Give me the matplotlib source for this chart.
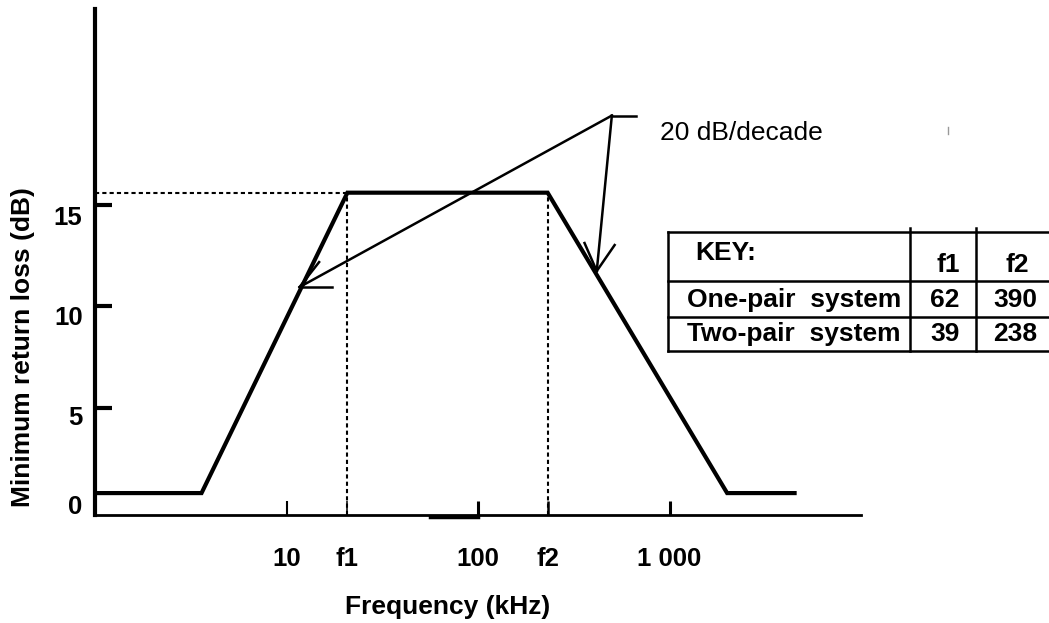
import matplotlib
matplotlib.use("Agg")
import matplotlib.pyplot as plt
from matplotlib.lines import Line2D
from matplotlib.transforms import ScaledTranslation

plt.rcParams['font.family'] = ['Liberation Sans', 'DejaVu Sans']

# mask of minimum return loss vs frequency (schematic)
freq_khz = [1, 3.6, 20.8, 231, 2000, 4500]
loss_db = [0.8, 0.8, 15.6, 15.6, 0.8, 0.8]
f1_pos = 20.8
f2_pos = 231
plateau_db = 15.6

x_ticks = [10, f1_pos, 100, f2_pos, 1000]
x_tick_labels = ['10', 'f1', '100', 'f2', '1 000']
y_ticks = [0, 5, 10, 15]
y_tick_labels = ['0', '5', '10', '15']

# "20 dB/decade" pointer
slope_label = '20 dB/decade'
label_pos = (889, 18.54)
arrow_vertex = (500, 19.4)
arrow_tail_end = (666, 19.4)
left_tip = (11.7, 10.95)
left_wings = [(14.8, 12.18), (17.3, 10.95)]
right_tip = (417, 11.74)
right_wings = [(360, 13.12), (517, 13.02)]

# key table
key_rows = ['One-pair  system', 'Two-pair  system']
key_f1 = [62, 39]
key_f2 = [390, 238]

W, H = 1049, 623


def fx(x):
    return x / W


def fy(y):
    return 1 - y / H


fig = plt.figure(figsize=(W / 100, H / 100), dpi=100)
ax = fig.add_axes([fx(95), fy(515), 766 / W, 506 / H])

ax.set_xscale('log')
ax.set_xlim(1, 10000)
ax.set_ylim(-0.28, 24.65)

# dashed guides
dash = dict(color='black', lw=1.5, ls=(0, (2, 1.5)), zorder=2)
ax.plot([1, f1_pos], [plateau_db, plateau_db], **dash)
ax.plot([f1_pos, f1_pos], [-0.28, plateau_db], **dash)
ax.plot([f2_pos, f2_pos], [-0.28, plateau_db], **dash)

# the curve
ax.plot(freq_khz, loss_db, color='black', lw=3, solid_joinstyle='miter', zorder=3)

# pointer lines
ax.plot([arrow_vertex[0], arrow_tail_end[0]], [arrow_vertex[1], arrow_tail_end[1]],
        color='black', lw=1.8)
for tip, wings in [(left_tip, left_wings), (right_tip, right_wings)]:
    ax.plot([arrow_vertex[0], tip[0]], [arrow_vertex[1], tip[1]], color='black', lw=1.8)
    for w in wings:
        ax.plot([tip[0], w[0]], [tip[1], w[1]], color='black', lw=1.8)
ax.text(label_pos[0], label_pos[1], slope_label, fontsize=19, ha='left', va='center')

# little scan blemish on the axis
ax.plot([56, 100], [-0.36, -0.36], color='black', lw=2.5, clip_on=False, zorder=4)

# axes styling
for side in ['top', 'right']:
    ax.spines[side].set_visible(False)
ax.spines['left'].set_linewidth(3)
ax.spines['bottom'].set_linewidth(2)

ax.set_xticks(x_ticks)
ax.set_xticklabels(x_tick_labels, fontsize=18.5, fontweight='bold')
ax.xaxis.set_minor_locator(matplotlib.ticker.NullLocator())
ax.tick_params(axis='x', direction='in', length=10, width=1.6, pad=23)
for t, w in zip(ax.xaxis.get_major_ticks(), [1.5, 1.1, 2.2, 1.8, 2.2]):
    t.tick1line.set_markeredgewidth(w)

ax.set_yticks(y_ticks)
ax.set_yticklabels(y_tick_labels, fontsize=18.5, fontweight='bold')
ax.tick_params(axis='y', direction='in', length=12, width=3, pad=9)
ax.yaxis.get_major_ticks()[0].tick1line.set_visible(False)
for lab, dy in zip(ax.get_yticklabels(), [5, -8, -9, -11]):
    lab.set_transform(lab.get_transform() + ScaledTranslation(0, dy / 100, fig.dpi_scale_trans))

ax.set_xlabel('Frequency (kHz)', fontsize=19, fontweight='bold', va='center')
ax.xaxis.set_label_coords((448 - 95) / 766, (515 - 607) / 506)
ax.set_ylabel('Minimum return loss (dB)', fontsize=19, fontweight='bold',
              ha='center', va='center')
ax.yaxis.set_label_coords((23 - 95) / 766, (515 - 347) / 506)

# key table drawn on the figure
tbl = dict(color='black', lw=1.8)
for y in [232, 281, 317, 351]:
    fig.add_artist(Line2D([fx(668), fx(1049)], [fy(y), fy(y)], **tbl))
fig.add_artist(Line2D([fx(668), fx(668)], [fy(232), fy(351)], **tbl))
for x in [910, 976]:
    fig.add_artist(Line2D([fx(x), fx(x)], [fy(228), fy(351)], **tbl))

bold = dict(fontsize=19, fontweight='bold', va='center')
fig.text(fx(695), fy(253), 'KEY:', ha='left', **bold)
fig.text(fx(948), fy(265), 'f1', ha='center', **bold)
fig.text(fx(1017), fy(265), 'f2', ha='center', **bold)
for name, a, b, yc in zip(key_rows, key_f1, key_f2, [300, 334]):
    fig.text(fx(687), fy(yc), name, ha='left', **bold)
    fig.text(fx(945), fy(yc), str(a), ha='center', **bold)
    fig.text(fx(1015), fy(yc), str(b), ha='center', **bold)

fig.add_artist(Line2D([fx(948), fx(948)], [fy(127), fy(134)], color='#999999', lw=1))

fig.savefig('out.png', dpi=100)
